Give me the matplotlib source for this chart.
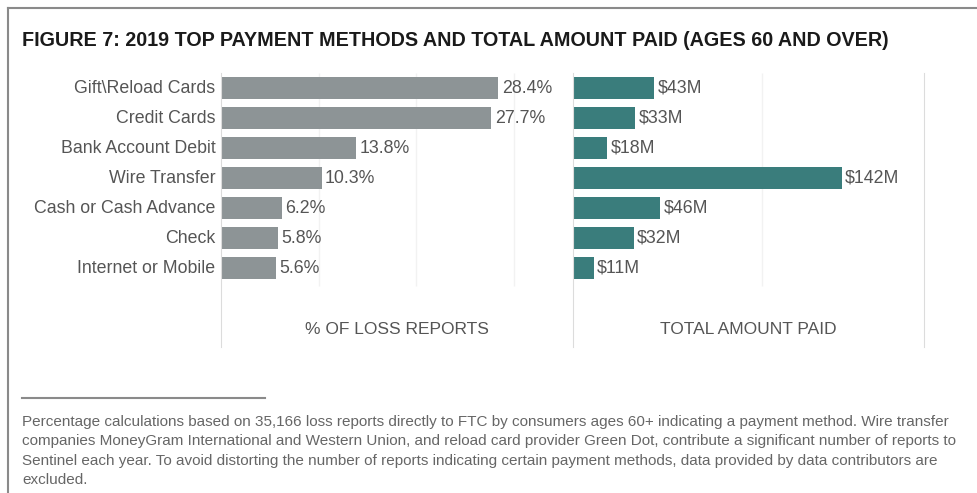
"""Figure 7: 2019 top payment methods and total amount paid (ages 60 and over)"""

import matplotlib
matplotlib.use('Agg')
from matplotlib import pyplot as plt
from matplotlib.lines import Line2D

methods = ['Gift\\Reload Cards', 'Credit Cards', 'Bank Account Debit', 'Wire Transfer',
           'Cash or Cash Advance', 'Check', 'Internet or Mobile']
pct_reports = [28.4, 27.7, 13.8, 10.3, 6.2, 5.8, 5.6]
amount_paid = [43, 33, 18, 142, 46, 32, 11]

title = "FIGURE 7: 2019 TOP PAYMENT METHODS AND TOTAL AMOUNT PAID (AGES 60 AND OVER)"
footnote = [
    "Percentage calculations based on 35,166 loss reports directly to FTC by consumers ages 60+ indicating a payment method. Wire transfer",
    "companies MoneyGram International and Western Union, and reload card provider Green Dot, contribute a significant number of reports to",
    "Sentinel each year. To avoid distorting the number of reports indicating certain payment methods, data provided by data contributors are",
    "excluded.",
]

plt.rcParams['font.family'] = ['Liberation Sans', 'DejaVu Sans']

W, H = 977, 493
fig = plt.figure(figsize=(W / 100, H / 100), dpi=100)


def box(x0, x1, y0, y1):
    # pixel box -> figure fraction rect
    return [x0 / W, 1 - y1 / H, (x1 - x0) / W, (y1 - y0) / H]


ax1 = fig.add_axes(box(221, 573, 73, 347))
ax2 = fig.add_axes(box(573, 924, 73, 347))

rows = list(range(len(methods)))
line_c = '#dcdcdc'
text_c = '#555555'
fs = 12.8

panels = [
    (ax1, pct_reports, '#8d9496', 36.05, [10, 20, 30], '{:.1f}%', '% OF LOSS REPORTS'),
    (ax2, amount_paid, '#3a7d7c', 185.5, [100], '${}M', 'TOTAL AMOUNT PAID'),
]
for ax, vals, color, xmax, grid, fmt, label in panels:
    ax.vlines(grid, -0.5, 6.6, color='#f2f2f2', lw=1, zorder=0)
    ax.barh(rows, vals, height=0.74, color=color, zorder=2)
    ax.set_xlim(0, xmax)
    ax.set_ylim(8.63, -0.5)
    ax.set_xticks([])
    ax.set_yticks([])
    for s in ['top', 'right', 'bottom']:
        ax.spines[s].set_visible(False)
    ax.spines['left'].set_color(line_c)
    ax.patch.set_alpha(0)
    for r, v in zip(rows, vals):
        ax.annotate(fmt.format(v), (v, r), xytext=(2.5, 0), textcoords='offset points',
                    va='center', ha='left', fontsize=fs, color=text_c)
    ax.text(xmax / 2, 8.05, label, ha='center', va='center', fontsize=12.5, color=text_c)

ax2.spines['right'].set_visible(True)
ax2.spines['right'].set_color(line_c)

for r, m in zip(rows, methods):
    ax1.annotate(m, (0, r), xytext=(-4, 0), textcoords='offset points',
                 va='center', ha='right', fontsize=fs, color=text_c)

fig.text(22 / W, 1 - 41 / H, title, fontsize=14.2, fontweight='bold', color='#1a1a1a',
         va='center', ha='left')

# frame lines and separator
fig.add_artist(Line2D([8 / W, 8 / W], [0, 1 - 8 / H], color='#8a8a8a', lw=1.5))
fig.add_artist(Line2D([8 / W, 1], [1 - 8 / H, 1 - 8 / H], color='#8a8a8a', lw=1.5))
fig.add_artist(Line2D([22 / W, 265 / W], [1 - 398 / H, 1 - 398 / H], color='#8a8a8a', lw=1.5))

for i, line in enumerate(footnote):
    fig.text(22 / W, 1 - (422 + 19.5 * i) / H, line, fontsize=11, color='#666666',
             va='center', ha='left')

fig.savefig('out.png', dpi=100, facecolor='white')
